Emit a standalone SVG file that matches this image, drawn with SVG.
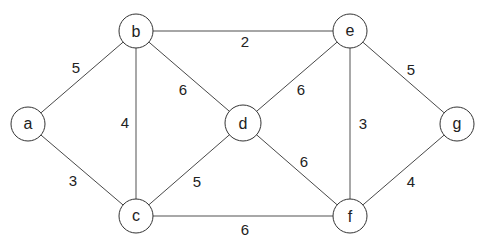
<svg xmlns="http://www.w3.org/2000/svg" width="501" height="242" viewBox="0 0 501 242">
<style>
.n circle{fill:#fff;stroke:#333;stroke-width:1}
.n text{font-family:"Liberation Sans",Arial,sans-serif;font-size:16px;fill:#222;text-anchor:middle}
.e line{stroke:#333;stroke-width:0.9}
.e line.g{stroke:#a8a8a8;stroke-width:2}
.e line.m{stroke:#888;stroke-width:1.5}
.w{font-family:"Liberation Sans",Arial,sans-serif;font-size:15px;fill:#222;text-anchor:middle}
</style>
<rect width="501" height="242" fill="#fff"/>
<g id="connectors" class="e">
<line x1="28" y1="124" x2="136" y2="31"/>
<line x1="28" y1="124" x2="136" y2="216"/>
<line class="g" x1="136" y1="31" x2="136" y2="216"/>
<line class="m" x1="136" y1="31" x2="350" y2="31"/>
<line x1="136" y1="31" x2="243" y2="123"/>
<line x1="136" y1="216" x2="243" y2="123"/>
<line class="g" x1="136" y1="216" x2="350" y2="216"/>
<line x1="243" y1="123" x2="350" y2="31"/>
<line x1="243" y1="123" x2="350" y2="216"/>
<line class="g" x1="350" y1="31" x2="350" y2="216"/>
<line x1="350" y1="31" x2="457" y2="124"/>
<line x1="350" y1="216" x2="457" y2="124"/>
</g>
<g id="weights">
<text class="w" x="76" y="73">5</text>
<text class="w" x="73" y="186">3</text>
<text class="w" x="125" y="128">4</text>
<text class="w" x="245" y="47">2</text>
<text class="w" x="183" y="95">6</text>
<text class="w" x="197" y="187">5</text>
<text class="w" x="245" y="235">6</text>
<text class="w" x="301" y="95">6</text>
<text class="w" x="304" y="167">6</text>
<text class="w" x="363" y="129">3</text>
<text class="w" x="411" y="75">5</text>
<text class="w" x="411" y="187">4</text>
</g>
<g id="node-a" class="n"><circle cx="28" cy="124" r="17"/><text x="28" y="129">a</text></g>
<g id="node-b" class="n"><circle cx="136" cy="31" r="17"/><text x="136" y="37">b</text></g>
<g id="node-c" class="n"><circle cx="136" cy="216" r="17"/><text x="136" y="221">c</text></g>
<g id="node-d" class="n"><circle cx="243" cy="123" r="18"/><text x="243" y="129">d</text></g>
<g id="node-e" class="n"><circle cx="350" cy="31" r="17"/><text x="350" y="36">e</text></g>
<g id="node-f" class="n"><circle cx="350" cy="216" r="17"/><text x="350" y="222">f</text></g>
<g id="node-g" class="n"><circle cx="457" cy="124" r="17"/><text x="457" y="129">g</text></g>
</svg>
